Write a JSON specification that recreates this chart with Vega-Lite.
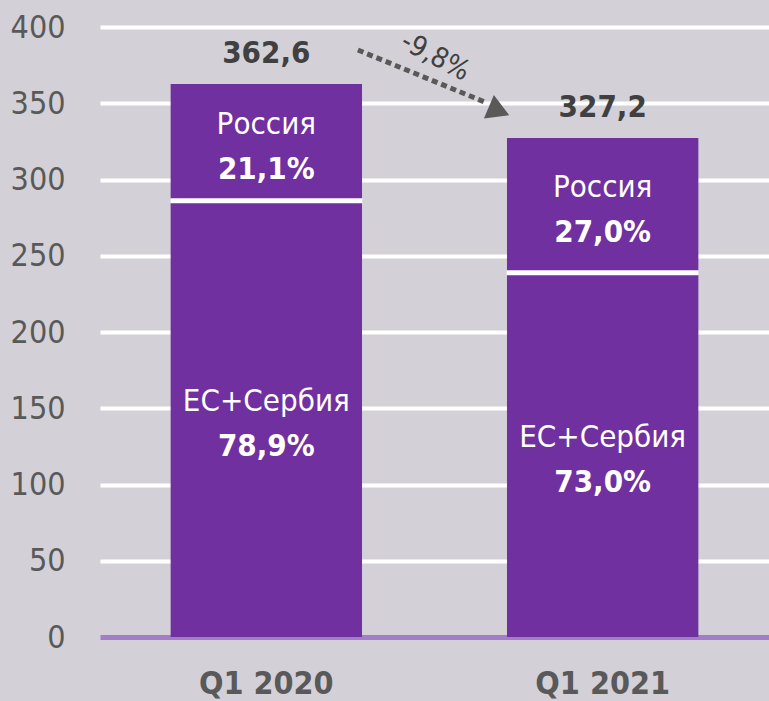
{
  "$schema": "https://vega.github.io/schema/vega-lite/v6.json",
  "width": 669,
  "height": 610,
  "autosize": {"type": "none"},
  "padding": {"left": 100, "top": 27, "right": 0, "bottom": 64},
  "background": "#D3D1D7",
  "config": {"view": {"stroke": null}, "font": "DejaVu Sans Condensed"},
  "datasets": {
    "seg": [
      {"quarter": "Q1 2020", "region": "ЕС+Сербия", "ord": 1, "value": 286.1, "share": "78,9%"},
      {"quarter": "Q1 2020", "region": "Россия", "ord": 2, "value": 76.5, "share": "21,1%"},
      {"quarter": "Q1 2021", "region": "ЕС+Сербия", "ord": 1, "value": 238.9, "share": "73,0%"},
      {"quarter": "Q1 2021", "region": "Россия", "ord": 2, "value": 88.3, "share": "27,0%"}
    ],
    "tot": [
      {"quarter": "Q1 2020", "total": 362.6, "label": "362,6"},
      {"quarter": "Q1 2021", "total": 327.2, "label": "327,2"}
    ],
    "arrow": [{"x": 0.771, "y": 384.9, "x2": 1.157, "y2": 350.2}],
    "head": [{"x": 1.193, "y": 344.9}],
    "chg": [{"x": 1.0015, "y": 380.3, "label": "-9,8%"}]
  },
  "resolve": {"scale": {"x": "independent"}},
  "layer": [
    {
      "encoding": {
        "x": {
          "field": "quarter",
          "type": "nominal",
          "sort": null,
          "scale": {"paddingInner": 0.431, "paddingOuter": 0.21},
          "axis": {
            "title": null,
            "domain": false,
            "ticks": false,
            "labelAngle": 0,
            "labelFontSize": 32,
            "labelFontWeight": "bold",
            "labelColor": "#595959",
            "labelPadding": 31
          }
        }
      },
      "layer": [
        {
          "data": {"name": "seg"},
          "transform": [
            {"stack": "value", "groupby": ["quarter"], "sort": [{"field": "ord"}], "as": ["y0", "y1"]},
            {"calculate": "(datum.y0 + datum.y1) / 2", "as": "mid"}
          ],
          "layer": [
            {
              "mark": {"type": "bar", "color": "#7030A0"},
              "encoding": {
                "y": {
                  "field": "y0",
                  "type": "quantitative",
                  "scale": {"domain": [0, 400], "nice": false},
                  "axis": {
                    "title": null,
                    "domain": false,
                    "ticks": false,
                    "values": [0, 50, 100, 150, 200, 250, 300, 350, 400],
                    "grid": true,
                    "gridColor": {"condition": {"test": "datum.value === 0", "value": "#A47DC9"}, "value": "white"},
                    "gridWidth": {"condition": {"test": "datum.value === 0", "value": 5}, "value": 4},
                    "gridOpacity": 1,
                    "labelFontSize": 32,
                    "labelColor": "#595959",
                    "labelPadding": 35
                  }
                },
                "y2": {"field": "y1"}
              }
            },
            {
              "transform": [{"filter": "datum.ord == 1"}],
              "mark": {"type": "tick", "color": "white", "thickness": 5, "size": 192, "orient": "horizontal", "opacity": 1},
              "encoding": {"y": {"field": "y1", "type": "quantitative"}}
            },
            {
              "mark": {"type": "text", "color": "white", "fontSize": 31, "dy": -8, "baseline": "alphabetic"},
              "encoding": {
                "y": {"field": "mid", "type": "quantitative"},
                "text": {"field": "region"}
              }
            },
            {
              "mark": {"type": "text", "color": "white", "fontSize": 31, "fontWeight": "bold", "dy": 37, "baseline": "alphabetic"},
              "encoding": {
                "y": {"field": "mid", "type": "quantitative"},
                "text": {"field": "share"}
              }
            }
          ]
        },
        {
          "data": {"name": "tot"},
          "mark": {"type": "text", "color": "#404040", "fontSize": 31, "fontWeight": "bold", "dy": -21, "baseline": "alphabetic"},
          "encoding": {
            "y": {"field": "total", "type": "quantitative"},
            "text": {"field": "label"}
          }
        }
      ]
    },
    {
      "encoding": {
        "x": {"field": "x", "type": "quantitative", "scale": {"domain": [0, 2], "nice": false}, "axis": null},
        "y": {"field": "y", "type": "quantitative"}
      },
      "layer": [
        {
          "data": {"name": "arrow"},
          "mark": {"type": "rule", "color": "#595959", "strokeWidth": 5, "strokeDash": [6, 4]},
          "encoding": {"x2": {"field": "x2"}, "y2": {"field": "y2"}}
        },
        {
          "data": {"name": "head"},
          "mark": {"type": "point", "shape": "triangle-right", "filled": true, "color": "#595959", "opacity": 1, "size": 650, "angle": 23}
        },
        {
          "data": {"name": "chg"},
          "mark": {"type": "text", "angle": 28, "fontSize": 28, "color": "#404040"},
          "encoding": {"text": {"field": "label"}}
        }
      ]
    }
  ]
}
